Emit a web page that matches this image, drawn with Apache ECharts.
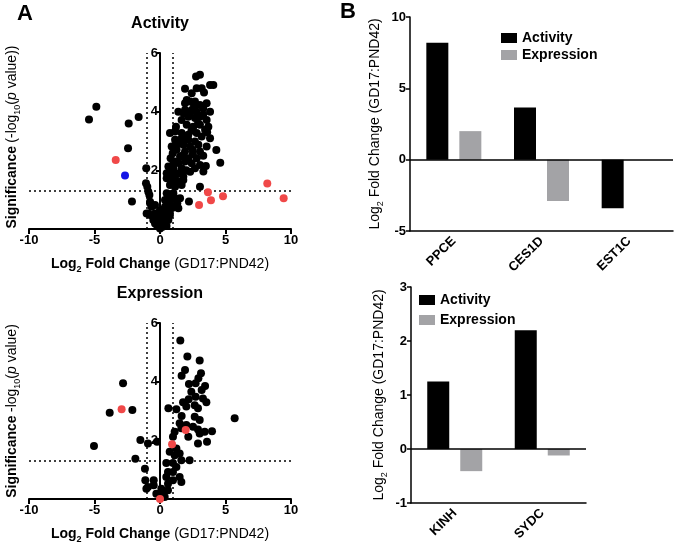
<!DOCTYPE html>
<html>
<head>
<meta charset="utf-8">
<script src="https://cdn.jsdelivr.net/npm/echarts@6/dist/echarts.min.js"></script>
<style>
html, body { margin: 0; padding: 0; background: #fff; }
#chart { width: 674px; height: 545px; }
</style>
</head>
<body>
<div id="chart"></div>
<script>
// volcano plot points [log2 fold change, -log10 p]
var actBlack = [
    [-4.86,4.17],[-5.42,3.73],[-1.63,3.82],[-2.39,3.6],[-2.44,2.75],[-2.14,0.94],[-1.05,2.07],[-1.07,1.56],
    [-0.97,1.44],[-0.89,1.27],[-0.81,1.16],[-0.76,0.88],[-1.02,0.53],[3.05,1.44],[2.21,0.94],[4.3,2.69],[4.6,2.26],
    [3.05,5.26],[2.75,5.2],[2.8,4.8],[3.18,4.8],[3.36,4.65],[3.82,4.91],[4.07,4.91],[1.91,4.78],[2.42,4.63],
    [2.04,4.4],[1.91,4.29],[2.29,4.35],[2.67,4.35],[3.05,4.23],[3.56,4.29],[1.4,4.0],[1.91,4.06],[2.42,4.06],
    [2.8,4.0],[3.3,4.12],[3.82,4.0],[2.16,3.83],[2.67,3.78],[3.05,3.83],[3.56,3.72],[1.65,3.72],[1.22,3.49],
    [2.04,3.55],[2.54,3.49],[3.05,3.55],[3.44,3.38],[3.69,3.49],[1.15,3.32],[0.76,3.27],[1.65,3.27],[2.16,3.21],
    [2.8,3.27],[3.18,3.15],[3.82,3.09],[1.53,3.04],[1.15,3.04],[2.16,3.04],[2.67,2.98],[1.78,2.87],[2.29,2.81],
    [2.93,2.87],[0.89,2.81],[1.27,2.7],[1.91,2.64],[2.49,2.7],[3.05,2.64],[3.56,2.81],[0.97,2.58],[1.53,2.47],
    [2.16,2.41],[2.8,2.41],[0.81,2.41],[1.15,2.3],[1.91,2.3],[2.42,2.24],[3.05,2.18],[0.64,2.13],[1.02,2.07],
    [1.65,2.07],[2.67,2.07],[3.31,1.96],[0.51,1.9],[0.89,1.84],[1.27,1.9],[1.78,1.79],[0.51,1.73],[0.89,1.67],
    [1.4,1.62],[0.76,1.5],[1.15,1.44],[1.65,1.5],[0.76,2.01],[1.02,2.24],[0.64,1.79],[1.15,1.73],[1.53,1.9],
    [0.89,1.56],[1.27,1.56],[1.78,1.67],[0.89,1.16],[0.64,1.1],[1.15,1.05],[0.38,0.99],[0.76,0.88],[1.32,0.88],
    [0.38,0.76],[0.89,0.71],[1.4,0.71],[0,0.65],[0.51,0.59],[-0.38,0.53],[-0.89,0.53],[0.13,0.48],[0.76,0.48],
    [-0.51,0.42],[-0.13,0.36],[0.38,0.36],[0,0.02],[-0.38,0.19],[0.38,0.19],[-0.51,0.31],[0,0.31],[0.64,0.31],
    [-0.76,0.48],[-0.25,0.53],[0.25,0.48],[-0.64,0.76],[-0.38,0.82],[0.64,0.71],[1.15,0.76],[-0.76,0.93],
    [0.64,0.93],[1.27,0.99],[0.89,1.1],[1.53,1.05],[0.51,1.22],[1.02,1.22],[-0.2,0.1],[0.2,0.08],[-0.1,0.22],
    [0.15,0.28],[0.5,0.1],[2.3,3.95],[2.6,4.2],[1.8,3.95],[2.9,3.6],[3.3,3.9],[2.4,3.35],[1.9,3.1],[2.5,2.55],
    [2.0,2.0],[2.3,1.95],[1.4,2.25],[1.7,2.5],[1.3,2.9],[3.6,3.3],[3.3,2.5],[3.5,2.15]
];
var actRed = [[-3.38,2.35],[2.98,0.82],[3.66,1.25],[3.89,0.98],[4.81,1.12],[8.19,1.55],[9.44,1.05]];
var actBlue = [[-2.67,1.82]];

var expBlack = [
    [-2.82,3.95],[-3.84,2.94],[-2.11,3.03],[-5.04,1.81],[-1.88,1.37],[-1.5,2.01],[-0.92,1.89],[-0.23,1.95],
    [-1.15,1.03],[5.7,2.75],[3.97,2.31],[3.59,1.95],[2.26,1.32],[1.55,5.4],[2.09,4.86],[3.03,4.72],[1.91,4.4],
    [1.65,4.2],[3.13,4.29],[2.93,4.12],[2.72,3.95],[2.21,3.92],[3.44,3.85],[2.39,3.66],[3.18,3.72],[2.19,3.4],
    [2.72,3.49],[3.28,3.43],[3.54,3.3],[1.76,3.3],[2.65,3.2],[0.64,3.09],[1.25,3.06],[2.01,3.15],[2.9,3.09],
    [1.65,2.83],[2.65,2.8],[3.03,2.69],[1.5,2.58],[2.01,2.52],[2.52,2.46],[2.9,2.37],[3.41,2.29],[3.03,2.23],
    [1.12,2.29],[1.63,2.41],[2.16,2.12],[2.9,1.89],[0.99,2.12],[1.25,1.72],[0.74,1.61],[1.5,1.55],[1.12,1.49],
    [1.63,1.32],[0.48,1.23],[0.99,1.23],[1.25,1.09],[0.61,0.92],[0.99,0.92],[0.48,0.75],[1.5,0.75],[0.99,0.64],
    [1.63,0.58],[0.61,0.52],[-1.12,0.64],[-0.92,0.41],[-0.48,0.64],[-0.48,0.47],[-1.04,0.35],[0.1,0.35],
    [-0.28,0.18],[0.23,0.18],[0.36,0.07],[0.61,0.3]
];
var expRed = [[-2.93,3.06],[1.96,2.35],[0.92,1.87],[0,0]];

// bar panels
var genesTop = ['PPCE', 'CES1D', 'EST1C'];
var actTop = [8.2, 3.65, -3.4];
var expTop = [2.0, -2.9, null];
var genesBottom = ['KINH', 'SYDC'];
var actBottom = [1.25, 2.2];
var expBottom = [-0.41, -0.12];

var FONT = 'Liberation Sans, Arial, sans-serif';
var richName = {
    b: { fontFamily: FONT, fontWeight: 'bold', fontSize: 14, color: '#000', lineHeight: 20 },
    r: { fontFamily: FONT, fontSize: 14, color: '#000', lineHeight: 20 },
    i: { fontFamily: FONT, fontSize: 14, fontStyle: 'italic', color: '#000', lineHeight: 20 },
    s: { fontFamily: FONT, fontSize: 9, fontWeight: 'bold', color: '#000', verticalAlign: 'bottom' },
    sr: { fontFamily: FONT, fontSize: 9, color: '#000', verticalAlign: 'bottom' }
};
var barRich = {
    r: { fontFamily: FONT, fontSize: 14, color: '#000', lineHeight: 20 },
    s: { fontFamily: FONT, fontSize: 9, color: '#000', verticalAlign: 'bottom' }
};
var tickLabel = { color: '#000', fontFamily: FONT, fontWeight: 'bold', fontSize: 13 };

function volcanoX(i) {
    return {
        type: 'value', gridIndex: i, min: -10, max: 10, interval: 5,
        axisLine: { onZero: false, lineStyle: { color: '#000', width: 2 } },
        axisTick: { length: 5, lineStyle: { color: '#000', width: 2 } },
        axisLabel: Object.assign({ margin: 5 }, tickLabel),
        splitLine: { show: false },
        name: '{b|Log}{s|2}{b| Fold Change }{r|(GD17:PND42)}',
        nameLocation: 'middle', nameGap: 25,
        nameTextStyle: { rich: richName }
    };
}
// y axis sits at x = 0 (131px right of the grid edge)
function volcanoY(i) {
    return {
        type: 'value', gridIndex: i, min: 0, max: 6, interval: 2,
        position: 'left', offset: -131,
        axisLine: { onZero: false, lineStyle: { color: '#000', width: 2 } },
        axisTick: { length: 4, lineStyle: { color: '#000', width: 2 } },
        axisLabel: Object.assign({ margin: 2, formatter: function (v) { return v === 0 ? '' : v; } }, tickLabel),
        splitLine: { show: false }
    };
}
function dots(name, data, i, color, withLines) {
    var s = {
        name: name, type: 'scatter', xAxisIndex: i, yAxisIndex: i, data: data,
        symbolSize: 8, itemStyle: { color: color, opacity: 1 }, clip: false, z: 3
    };
    if (withLines) {
        s.markLine = {
            silent: true, symbol: 'none', label: { show: false }, z: 1,
            lineStyle: { color: '#000', type: [2, 3], width: 1.5 },
            data: [{ xAxis: -1 }, { xAxis: 1 }, { yAxis: 1.3 }]
        };
    }
    return s;
}
function barX(i, cats) {
    return {
        type: 'category', gridIndex: i, data: cats, position: 'bottom',
        axisLine: { onZero: false, lineStyle: { color: '#000', width: 1.5 } },
        axisTick: { alignWithLabel: true, length: 5, lineStyle: { color: '#000', width: 1.5 } },
        axisLabel: Object.assign({ rotate: 45, margin: 8, interval: 0 }, tickLabel)
    };
}
function barY(i, min, max, step, gap) {
    return {
        type: 'value', gridIndex: i, min: min, max: max, interval: step,
        axisLine: { show: true, onZero: false, lineStyle: { color: '#000', width: 1.5 } },
        axisTick: { show: true, length: 4, lineStyle: { color: '#000', width: 1.5 } },
        axisLabel: Object.assign({ margin: 4 }, tickLabel),
        splitLine: { show: false },
        name: '{r|Log}{s|2}{r| Fold Change (GD17:PND42)}',
        nameLocation: 'middle', nameGap: gap,
        nameTextStyle: { rich: barRich }
    };
}
function bars(name, data, i, color, zeroLine) {
    var s = {
        name: name, type: 'bar', xAxisIndex: i, yAxisIndex: i, data: data,
        barWidth: 22, barGap: '50%', itemStyle: { color: color }
    };
    if (zeroLine) {
        s.markLine = {
            silent: true, symbol: 'none', label: { show: false },
            lineStyle: { color: '#000', type: 'solid', width: 1.5 },
            data: [{ yAxis: 0 }]
        };
    }
    return s;
}
function legendAt(left, top, gap) {
    return {
        data: ['Activity', 'Expression'], orient: 'vertical', left: left, top: top,
        icon: 'rect', itemWidth: 16, itemHeight: 10, itemGap: gap, selectedMode: false,
        textStyle: { fontFamily: FONT, fontWeight: 'bold', fontSize: 14, color: '#000' }
    };
}
function label(text, x, y, size) {
    return {
        type: 'text', x: x, y: y,
        style: { text: text, fontFamily: FONT, fontWeight: 'bold', fontSize: size, fill: '#000', align: 'center', verticalAlign: 'middle' }
    };
}
function sideName(text, x, y) {
    return {
        type: 'text', x: x, y: y, rotation: Math.PI / 2,
        style: { text: text, rich: richName, align: 'center', verticalAlign: 'middle' }
    };
}

var chart = echarts.init(document.getElementById('chart'));
chart.setOption({
    animation: false,
    grid: [
        { left: 29, top: 53, width: 262, height: 176, outerBoundsMode: 'none' },
        { left: 29, top: 323, width: 262, height: 176, outerBoundsMode: 'none' },
        { left: 410, top: 17, width: 263, height: 214, outerBoundsMode: 'none' },
        { left: 411, top: 287, width: 175, height: 216, outerBoundsMode: 'none' }
    ],
    xAxis: [volcanoX(0), volcanoX(1), barX(2, genesTop), barX(3, genesBottom)],
    yAxis: [volcanoY(0), volcanoY(1), barY(2, -5, 10, 5, 25), barY(3, -1, 3, 1, 22)],
    legend: [legendAt(496, 26, 3), legendAt(414, 288, 6)],
    graphic: [
        label('A', 25, 14, 22),
        label('B', 348, 12, 22),
        label('Activity', 160, 24, 16),
        label('Expression', 160, 294, 16),
        sideName('{b|Significance} {r|(-log}{sr|10}{r|(}{i|p}{r| value))}', 12, 137),
        sideName('{b|Significance} {r|-log}{sr|10}{r|(}{i|p}{r| value)}', 12, 411)
    ],
    series: [
        dots('actBlack', actBlack, 0, '#000', true),
        dots('actRed', actRed, 0, '#f04848', false),
        dots('actBlue', actBlue, 0, '#1414e6', false),
        dots('expBlack', expBlack, 1, '#000', true),
        dots('expRed', expRed, 1, '#f04848', false),
        bars('Activity', actTop, 2, '#000', true),
        bars('Expression', expTop, 2, '#a3a3a6', false),
        bars('Activity', actBottom, 3, '#000', true),
        bars('Expression', expBottom, 3, '#a3a3a6', false)
    ]
});
</script>
</body>
</html>
